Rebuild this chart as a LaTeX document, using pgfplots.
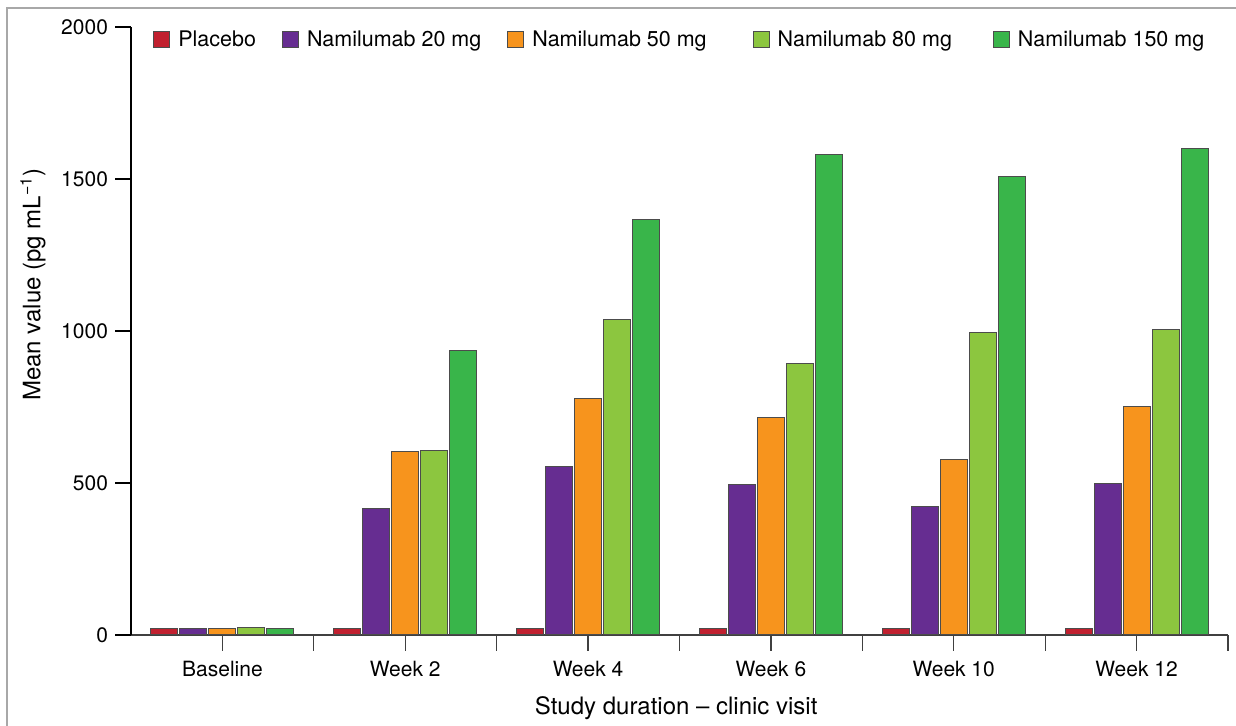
\documentclass[border=0pt]{standalone}
\usepackage{fontspec}
\setmainfont{TeX Gyre Heros}
\usepackage{pgfplots}
\pgfplotsset{compat=1.18}
\definecolor{cPla}{HTML}{C1202F}
\definecolor{c20}{HTML}{662D91}
\definecolor{c50}{HTML}{F7941D}
\definecolor{c80}{HTML}{8CC63F}
\definecolor{c150}{HTML}{39B54A}
\definecolor{frame}{HTML}{A8A8A8}
\begin{document}
\begin{tikzpicture}[font=\fontsize{10.5}{12.6}\selectfont]
\path[use as bounding box] (0,0) rectangle (618pt,363pt);
\draw[frame, line width=1.2pt] (3.5pt,0pt) -- (3.5pt,359pt) -- (618pt,359pt);
\begin{axis}[
  at={(65.5pt,45.5pt)}, anchor=south west,
  scale only axis, width=548.5pt, height=304pt,
  xmin=-0.5, xmax=5.5, ymin=0, ymax=2000,
  axis x line=bottom, axis y line=left,
  axis line style={-},
  x axis line style={draw=black!75, line width=0.7pt},
  y axis line style={draw=black, line width=0.9pt},
  tick align=outside,
  major tick length=8pt,
  xtick={0.5,1.5,2.5,3.5,4.5,5.5},
  xticklabels={},
  x tick style={draw=black!75, line width=0.6pt},
  extra x ticks={0,1,2,3,4,5},
  extra x tick labels={Baseline,Week 2,Week 4,Week 6,Week 10,Week 12},
  extra x tick style={tick style={draw=none}, xticklabel style={yshift=-1.5pt}},
  ytick={0,500,1000,1500,2000},
  y tick style={draw=black, line width=0.9pt},
  /pgf/number format/assume math mode=true,
  /pgf/number format/1000 sep={},
  ylabel={Mean value (pg mL\textsuperscript{−1})},
  ylabel style={at={(axis description cs:-0.0893,0.576)}, anchor=center, font=\fontsize{12}{14}\selectfont},
  xlabel={Study duration – clinic visit},
  xlabel style={at={(axis description cs:0.497,-0.121)}, anchor=center, font=\fontsize{12}{14}\selectfont},
  ybar=1pt, bar width=13.5pt,
  every axis plot/.append style={draw=black!70, line width=0.5pt},
  legend columns=5,
  legend style={draw=none, fill=none, inner sep=0pt, font=\fontsize{10.75}{12.6}\selectfont,
    at={(axis description cs:0.02,0.9786)}, anchor=west,
    /tikz/every odd column/.append style={column sep=2pt},
    /tikz/every even column/.append style={column sep=11pt}},
  legend image code/.code={\draw[#1] (0pt,-4pt) rectangle (8pt,4pt);},
]
\addplot[fill=cPla] coordinates {(0,20) (1,20) (2,20) (3,20) (4,20) (5,20)};
\addplot[fill=c20] coordinates {(0,20) (1,415) (2,553) (3,496) (4,424) (5,498)};
\addplot[fill=c50] coordinates {(0,20) (1,602) (2,777) (3,716) (4,578) (5,753)};
\addplot[fill=c80] coordinates {(0,24) (1,606) (2,1038) (3,894) (4,994) (5,1004)};
\addplot[fill=c150] coordinates {(0,20) (1,937) (2,1367) (3,1581) (4,1509) (5,1599)};
\legend{Placebo,Namilumab 20 mg,Namilumab 50 mg\kern10pt,Namilumab 80 mg\kern7.5pt,Namilumab 150 mg}
\end{axis}
\end{tikzpicture}
\end{document}
